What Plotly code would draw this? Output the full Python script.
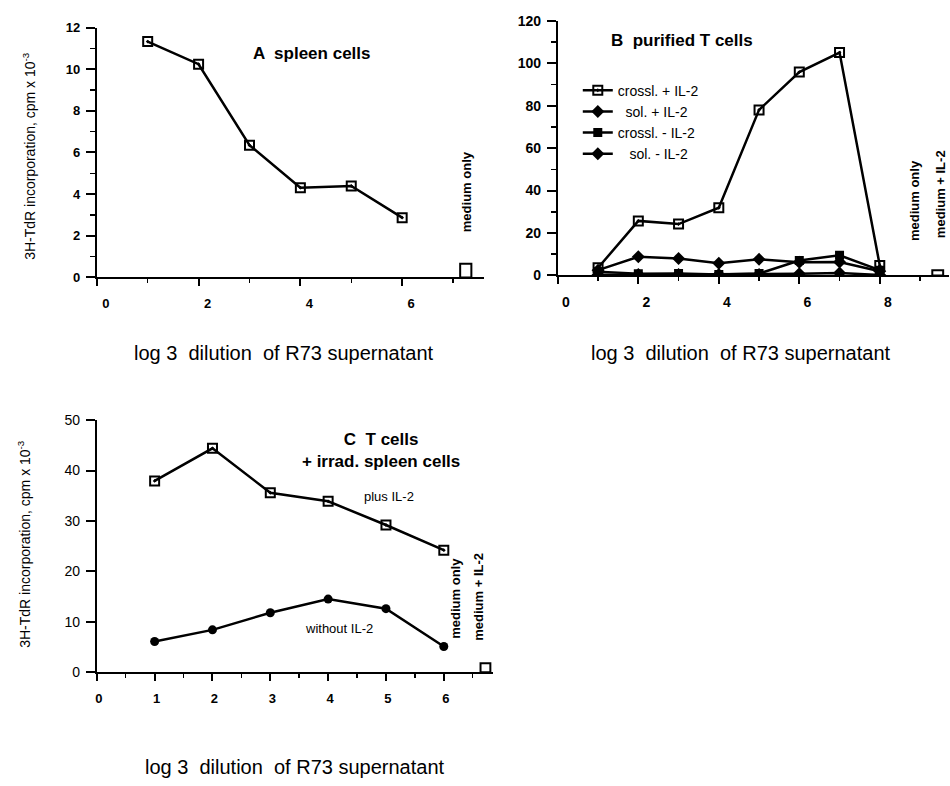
import plotly.graph_objects as go

W, H = 950, 786
FONT = "Liberation Sans, Arial, sans-serif"

# ---------------- data ----------------
# Panel A: spleen cells
a_x = [1, 2, 3, 4, 5, 6]
a_y = [11.33, 10.24, 6.35, 4.31, 4.39, 2.87]
a_med_x = [7.25]
a_med_y = [0.65]

# Panel B: purified T cells
b_x = [1, 2, 3, 4, 5, 6, 7, 8]
b_crossl_il2 = [3.6, 25.7, 24.2, 31.9, 78.0, 95.8, 105.0, 4.7]
b_sol_il2 = [2.5, 8.8, 8.0, 5.8, 7.6, 6.2, 6.3, 2.0]
b_crossl_noil2 = [1.8, 0.8, 0.9, 0.5, 0.9, 7.0, 9.5, 2.5]
b_sol_noil2 = [0.3, 0.4, 0.4, 0.4, 0.5, 0.8, 1.2, 0.2]
b_med_x = [9.44]
b_med_y = [2.5]

# Panel C: T cells + irrad. spleen cells
c_x = [1, 2, 3, 4, 5, 6]
c_plus = [37.95, 44.4, 35.6, 33.9, 29.2, 24.2]
c_without = [6.1, 8.4, 11.8, 14.5, 12.6, 5.1]
c_med_x = [6.72]
c_med_y = [1.8]

legend_names = ["crossl. + IL-2", "\u00a0\u00a0sol. + IL-2", "crossl. - IL-2", "\u00a0\u00a0\u00a0sol. - IL-2"]
x_title = "log 3  dilution  of R73 supernatant"
y_title = "3H-TdR incorporation, cpm x 10<sup>-3</sup>"


def px(x):
    return x / W


def py(y):
    return 1 - y / H


fig = go.Figure()

LINE = dict(color="black", width=2.5)
OPEN_SQ = dict(symbol="square-open-dot", size=9, color="black", line=dict(width=2, color="black"))
DIAM = dict(symbol="diamond", size=10, color="black")
FSQ = dict(symbol="square", size=9, color="black")
MED_BAR = dict(color="white", line=dict(color="black", width=2))

# A
fig.add_trace(go.Scatter(x=a_x, y=a_y, mode="lines+markers", line=LINE, marker=OPEN_SQ,
                         xaxis="x", yaxis="y", showlegend=False))
fig.add_trace(go.Bar(x=a_med_x, y=a_med_y, width=0.22, marker=MED_BAR,
                     xaxis="x", yaxis="y", showlegend=False))

# B
fig.add_trace(go.Scatter(x=b_x, y=b_crossl_il2, mode="lines+markers", line=LINE, marker=OPEN_SQ,
                         name=legend_names[0], xaxis="x2", yaxis="y2"))
fig.add_trace(go.Scatter(x=b_x, y=b_sol_il2, mode="lines+markers", line=LINE, marker=DIAM,
                         name=legend_names[1], xaxis="x2", yaxis="y2"))
fig.add_trace(go.Scatter(x=b_x, y=b_crossl_noil2, mode="lines+markers", line=LINE, marker=FSQ,
                         name=legend_names[2], xaxis="x2", yaxis="y2"))
fig.add_trace(go.Scatter(x=b_x, y=b_sol_noil2, mode="lines+markers", line=LINE, marker=DIAM,
                         name=legend_names[3], xaxis="x2", yaxis="y2"))
fig.add_trace(go.Bar(x=b_med_x, y=b_med_y, width=0.27, marker=MED_BAR,
                     xaxis="x2", yaxis="y2", showlegend=False))

# C
fig.add_trace(go.Scatter(x=c_x, y=c_plus, mode="lines+markers", line=LINE, marker=OPEN_SQ,
                         xaxis="x3", yaxis="y3", showlegend=False))
fig.add_trace(go.Scatter(x=c_x, y=c_without, mode="lines+markers", line=LINE,
                         marker=dict(symbol="circle", size=9, color="black"),
                         xaxis="x3", yaxis="y3", showlegend=False))
fig.add_trace(go.Bar(x=c_med_x, y=c_med_y, width=0.17, marker=MED_BAR,
                     xaxis="x3", yaxis="y3", showlegend=False))


def xax(domain, rng, dtick, minor_dtick, anchor, shift, size=13):
    return dict(domain=[px(domain[0]), px(domain[1])], range=rng, anchor=anchor,
                showline=True, linecolor="black", linewidth=2, showgrid=False, zeroline=False,
                ticks="outside", ticklen=7, tickwidth=2, tickcolor="black", dtick=dtick, tick0=0,
                ticklabelshift=shift, ticklabelstandoff=6,
                tickfont=dict(family=FONT, size=size, color="black", weight="bold"),
                minor=dict(dtick=minor_dtick, tick0=0, ticks="outside", ticklen=4, tickwidth=1.5,
                           tickcolor="black", showgrid=False),
                fixedrange=True)


def yax(domain, rng, dtick, minor_dtick, anchor, weight="bold", size=13):
    d = dict(domain=[py(domain[0]), py(domain[1])], range=rng, anchor=anchor,
             showline=True, linecolor="black", linewidth=2, showgrid=False, zeroline=False,
             ticks="outside", ticklen=9, tickwidth=2, tickcolor="black", dtick=dtick, tick0=0,
             ticklabelstandoff=3,
             tickfont=dict(family=FONT, size=size, color="black", weight=weight),
             fixedrange=True)
    if minor_dtick:
        d["minor"] = dict(dtick=minor_dtick, tick0=0, ticks="outside", ticklen=5, tickwidth=1.5,
                          tickcolor="black", showgrid=False)
    return d


annotations = []


def ann(text, x, y, size, bold=False, angle=0):
    t = f"<b>{text}</b>" if bold else text
    annotations.append(dict(text=t, x=px(x), y=py(y), xref="paper", yref="paper",
                            xanchor="center", yanchor="middle", showarrow=False, textangle=angle,
                            font=dict(family=FONT, size=size, color="black")))


ann("A  spleen cells", 310, 46, 17, bold=True)
ann("B  purified T cells", 681, 33, 17, bold=True)
ann("C  T cells<br>+ irrad. spleen cells", 380, 452, 17, bold=True)
ann("plus IL-2", 388, 499, 13)
ann("without IL-2", 338, 633, 13)
ann("medium only", 465, 188, 13, bold=True, angle=-90)
ann("medium only", 915, 197, 13, bold=True, angle=-90)
ann("medium + IL-2", 940, 190, 13, bold=True, angle=-90)
ann("medium only", 455, 603, 13, bold=True, angle=-90)
ann("medium + IL-2", 478, 601, 13, bold=True, angle=-90)
ann(x_title, 283, 352, 20)
ann(x_title, 741, 352, 20)
ann(x_title, 294, 775, 20)
ann(y_title, 27, 151, 14, angle=-90)
ann(y_title, 22, 547, 14, angle=-90)

fig.update_layout(
    width=W, height=H,
    margin=dict(l=0, r=0, t=0, b=0),
    paper_bgcolor="white", plot_bgcolor="white",
    font=dict(family=FONT, color="black"),
    xaxis=xax((95, 482.6), [0, 7.6], 2, 1, "y", 9),
    yaxis=yax((275, 20), [0, 12], 2, 1, "x"),
    xaxis2=xax((557, 949), [0, 9.72], 2, 1, "y2", 8, size=14),
    yaxis2=yax((273, 13), [0, 120], 20, 10, "x2", size=14),
    xaxis3=xax((95, 492), [0, 6.85], 1, 0.5, "y3", 2),
    yaxis3=yax((678, 420.7), [0, 50], 10, None, "x3", weight="normal", size=14),
    legend=dict(x=px(577), y=py(68), xanchor="left", yanchor="top",
                bgcolor="rgba(0,0,0,0)", borderwidth=0, tracegroupgap=0,
                font=dict(family=FONT, size=14, color="black")),
    annotations=annotations,
    bargap=0,
)

fig.write_html(
    "out.html",
    config={"displayModeBar": False, "staticPlot": True},
    post_script="document.body.style.margin='0';document.body.style.overflow='hidden';",
)
